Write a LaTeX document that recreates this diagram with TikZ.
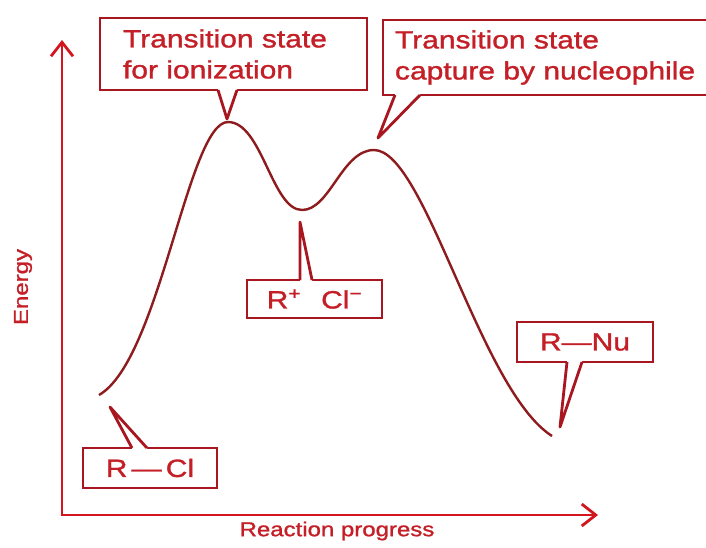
\documentclass[tikz,border=0pt]{standalone}
\usepackage{fontspec}
\setmainfont{Liberation Sans}[FakeStretch=1.2, FakeBold=1.2]
\usetikzlibrary{arrows.meta,calc}

\definecolor{axisred}{HTML}{D3151D}
\definecolor{boxred}{HTML}{A8161F}
\definecolor{curvered}{HTML}{8E1C1E}
\definecolor{textred}{HTML}{C41E26}

\begin{document}
\begin{tikzpicture}[
    x=1pt, y=-1pt,
    % Axes
    axis/.style={line width=2.8pt, draw=axisred, {Straight Barb[length=14pt,width=22pt]}-{Straight Barb[length=14pt,width=22pt]}},
    axislabel/.style={text=textred, font=\fontsize{20}{24}\selectfont},
    % Energy curve
    curve/.style={line width=2.4pt, draw=curvered},
    % Label boxes
    box/.style={rectangle, draw=boxred, line width=2.8pt, fill=white, outer sep=0pt, text=textred, font=\fontsize{25}{31}\selectfont, align=left},
    pointer/.style={draw=boxred, line width=2.8pt, line join=round}
]

\clip (0,0) rectangle (706,547);

% Axes
\coordinate (origin) at (62,515);
\coordinate (ytip) at (62,40);
\coordinate (xtip) at (598,515);
\draw[axis] (ytip) -- (origin) -- (xtip);
\node[axislabel, rotate=90] (energy) at (23,287) {Energy};
\node[axislabel] (progress) at (337,531) {Reaction progress};

% Energy curve
\coordinate (start) at (99,395);
\coordinate (top1) at (228,122);
\coordinate (mid) at (302,210);
\coordinate (top2) at (374,150);
\coordinate (end) at (552,436);
\draw[curve] (start) .. controls (160,360) and (188,122) .. (top1)
    .. controls (262,122) and (272,210) .. (mid)
    .. controls (330,210) and (342,150) .. (top2)
    .. controls (425,150) and (480,390) .. (end);

% Pointer tips
\coordinate (tipion) at (227,119);
\coordinate (tipcap) at (378,138);
\coordinate (tippair) at (300,222);
\coordinate (tipnu) at (560,427);
\coordinate (tipcl) at (110,407);

% Boxes
\node[box, text width=221pt, inner xsep=23pt, minimum height=72pt] (ion) at (233.5,54) {Transition state\\for ionization};
\node[box, text width=305pt, inner xsep=12pt, minimum height=75pt] (cap) at (547.5,57.5) {Transition state\\capture by nucleophile};
\node[box, minimum width=135pt, minimum height=38pt, inner xsep=0pt, inner ysep=0pt] (pair) at (314.5,299) {R\textsuperscript{+}\hspace{0.8em}Cl\textsuperscript{−}};
\node[box, minimum width=136pt, minimum height=40pt, inner xsep=0pt, inner ysep=0pt] (rnu) at (585,342) {R—Nu};
\node[box, minimum width=134pt, minimum height=40pt, inner xsep=0pt, inner ysep=0pt] (rcl) at (150,468) {R\,—\,Cl};

% Pointer: ionization
\fill[white] ($(ion.south west)+(118,-3)$) -- ($(ion.south west)+(118,0)$) -- (tipion) -- ($(ion.south west)+(137,0)$) -- ($(ion.south west)+(137,-3)$) -- cycle;
\draw[pointer] ($(ion.south west)+(118,0)$) -- (tipion) -- ($(ion.south west)+(137,0)$);

% Pointer: capture
\fill[white] ($(cap.south west)+(12,-3)$) -- ($(cap.south west)+(12,0)$) -- (tipcap) -- ($(cap.south west)+(37,0)$) -- ($(cap.south west)+(37,-3)$) -- cycle;
\draw[pointer] ($(cap.south west)+(12,0)$) -- (tipcap) -- ($(cap.south west)+(37,0)$);

% Pointer: ion pair
\fill[white] ($(pair.north west)+(53,3)$) -- ($(pair.north west)+(53,0)$) -- (tippair) -- ($(pair.north west)+(65,0)$) -- ($(pair.north west)+(65,3)$) -- cycle;
\draw[pointer] ($(pair.north west)+(53,0)$) -- (tippair) -- ($(pair.north west)+(65,0)$);

% Pointer: product
\fill[white] ($(rnu.south west)+(50,-3)$) -- ($(rnu.south west)+(50,0)$) -- (tipnu) -- ($(rnu.south west)+(65,0)$) -- ($(rnu.south west)+(65,-3)$) -- cycle;
\draw[pointer] ($(rnu.south west)+(50,0)$) -- (tipnu) -- ($(rnu.south west)+(65,0)$);

% Pointer: reactant
\fill[white] ($(rcl.north west)+(49,3)$) -- ($(rcl.north west)+(49,0)$) -- (tipcl) -- ($(rcl.north west)+(64,0)$) -- ($(rcl.north west)+(64,3)$) -- cycle;
\draw[pointer] ($(rcl.north west)+(49,0)$) -- (tipcl) -- ($(rcl.north west)+(64,0)$);

\end{tikzpicture}
\end{document}
